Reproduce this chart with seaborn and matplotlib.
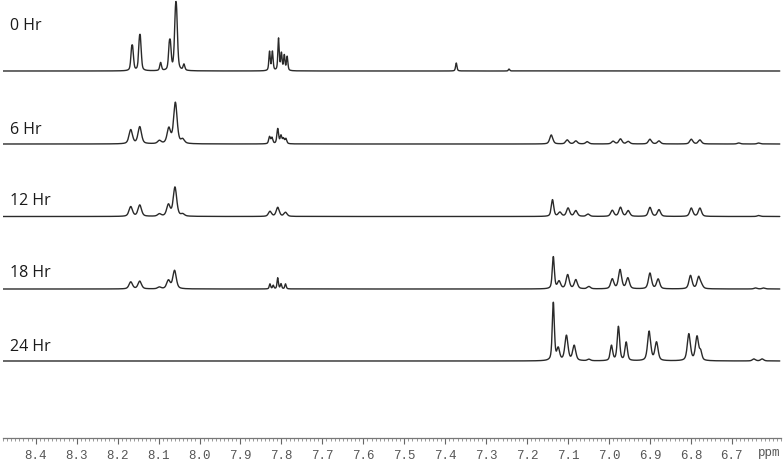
import seaborn as sns
import matplotlib.pyplot as plt
import pandas as pd
import numpy as np

# Stacked 1H NMR spectra (aromatic region) at different reaction times
labels = ["0 Hr", "6 Hr", "12 Hr", "18 Hr", "24 Hr"]

# peak positions (ppm), heights (arbitrary, ~px) and full widths (ppm)
t0_ppm = [8.166, 8.163, 8.147, 8.144, 8.095, 8.074, 8.071, 8.059, 8.056,
          8.038, 7.829, 7.822, 7.807, 7.800, 7.793, 7.786, 7.373, 7.244]
t0_height = [17, 17, 24, 24, 8, 20, 20, 42, 42, 6, 19, 19, 32, 17, 15, 14,
             8, 2]
t0_width = [0.005, 0.005, 0.005, 0.005, 0.005, 0.005, 0.005, 0.006, 0.006,
            0.005, 0.004, 0.004, 0.004, 0.004, 0.004, 0.004, 0.004, 0.004]

t6_ppm = [8.168, 8.146, 8.098, 8.075, 8.059, 8.041, 7.829, 7.823, 7.809,
          7.801, 7.795, 7.789, 7.141, 7.102, 7.081, 7.053, 6.990, 6.972,
          6.953, 6.900, 6.878, 6.799, 6.778, 6.683, 6.634]
t6_height = [14, 17, 3, 15, 41, 4, 7, 6, 15, 8, 5, 5, 9, 4, 3, 2.3, 2.7, 5,
             2.5, 4.7, 3, 4.7, 4, 1, 1]
t6_width = [0.010] * 6 + [0.005] * 6 + [0.009] * 13

t12_ppm = [8.168, 8.146, 8.098, 8.076, 8.060, 8.041, 7.828, 7.809, 7.790,
           7.138, 7.120, 7.100, 7.081, 7.051, 6.992, 6.972, 6.953, 6.900,
           6.878, 6.799, 6.778, 6.634]
t12_height = [9.7, 11.3, 2.3, 11.3, 29, 2, 5, 9, 4, 16.7, 4, 8.3, 5.7, 2.3,
              6, 9, 5.7, 9, 6.7, 8.3, 8.3, 1]
t12_width = [0.010] * 6 + [0.009] * 3 + [0.007] + [0.009] * 12

t18_ppm = [8.168, 8.146, 8.098, 8.076, 8.061, 7.828, 7.820, 7.809, 7.801,
           7.790, 7.136, 7.122, 7.101, 7.081, 7.049, 6.992, 6.973, 6.954,
           6.900, 6.880, 6.801, 6.781, 6.774, 6.642, 6.622]
t18_height = [7, 7.7, 1.7, 8.3, 18.3, 5, 3.5, 11, 5, 5, 32, 7.3, 14, 9, 2.3,
              9.7, 19, 10.7, 15.7, 9.7, 13.3, 11.7, 3, 1, 1]
t18_width = [0.010] * 5 + [0.004] * 5 + [0.006] + [0.009] * 14

t24_ppm = [7.136, 7.124, 7.104, 7.085, 7.049, 6.994, 6.977, 6.958, 6.902,
           6.884, 6.805, 6.785, 6.776, 6.646, 6.626]
t24_height = [58, 11.7, 25, 15, 1.5, 15, 34, 18.3, 29.3, 18.3, 26.7, 24, 8,
              2, 2]
t24_width = [0.006, 0.008, 0.009, 0.009, 0.009, 0.007, 0.007, 0.007, 0.009,
             0.009, 0.009, 0.009, 0.007, 0.009, 0.009]

baselines = [367, 294, 221.5, 149, 77]
label_y = [412, 308, 237, 165, 91]

peaks = [(t0_ppm, t0_height, t0_width), (t6_ppm, t6_height, t6_width),
         (t12_ppm, t12_height, t12_width), (t18_ppm, t18_height, t18_width),
         (t24_ppm, t24_height, t24_width)]

# pseudo-voigt line shapes on a fine ppm grid
grid = np.arange(6.583, 8.48, 0.0004)
frames = []
for lab, base, (pos, hgt, wid) in zip(labels, baselines, peaks):
    y = np.zeros_like(grid)
    for p, h, w in zip(pos, hgt, wid):
        hw = w / 2
        lor = hw ** 2 / ((grid - p) ** 2 + hw ** 2)
        gau = np.exp(-np.log(2) * ((grid - p) / hw) ** 2)
        y += h * (0.5 * lor + 0.5 * gau)
    frames.append(pd.DataFrame({"ppm": grid, "y": y + base, "time": lab}))
df = pd.concat(frames, ignore_index=True)

sns.set_style("white")

fig = plt.figure(figsize=(7.84, 4.62), dpi=100)
ax = fig.add_axes([3 / 784, 24 / 462, 778 / 784, 438 / 462])

sns.lineplot(data=df, x="ppm", y="y", hue="time", palette=["#2a2a2a"] * 5,
             estimator=None, sort=False, legend=False, linewidth=1.0, ax=ax)

for lab, ly in zip(labels, label_y):
    ax.text(8.462, ly, lab, fontsize=11.5, family="Open Sans", color="#1a1a1a",
            ha="left", va="center")

ax.set_xlim(8.48, 6.583)
ax.set_ylim(0, 438)
ax.set_xlabel("")
ax.set_ylabel("")
ax.set_yticks([])

major = np.round(np.arange(8.4, 6.65, -0.1), 1)
ax.set_xticks(major)
ax.set_xticklabels([f"{v:.1f}" for v in major], family="Liberation Mono",
                   fontsize=9, color="#555555")
ax.set_xticks(np.round(np.arange(8.48, 6.58, -0.01), 2), minor=True)
ax.tick_params(axis="x", which="major", direction="out", length=4.5, width=0.8,
               color="#666666", pad=4, bottom=True)
ax.tick_params(axis="x", which="minor", direction="out", length=2, width=0.6,
               color="#888888", bottom=True)

for s in ["top", "left", "right"]:
    ax.spines[s].set_visible(False)
ax.spines["bottom"].set_color("#777777")
ax.spines["bottom"].set_linewidth(0.9)

ax.text(6.61, -15, "ppm", family="Liberation Mono", fontsize=9,
        color="#555555", ha="center", va="center", clip_on=False)

fig.savefig("out.png", dpi=100)
plt.close()
